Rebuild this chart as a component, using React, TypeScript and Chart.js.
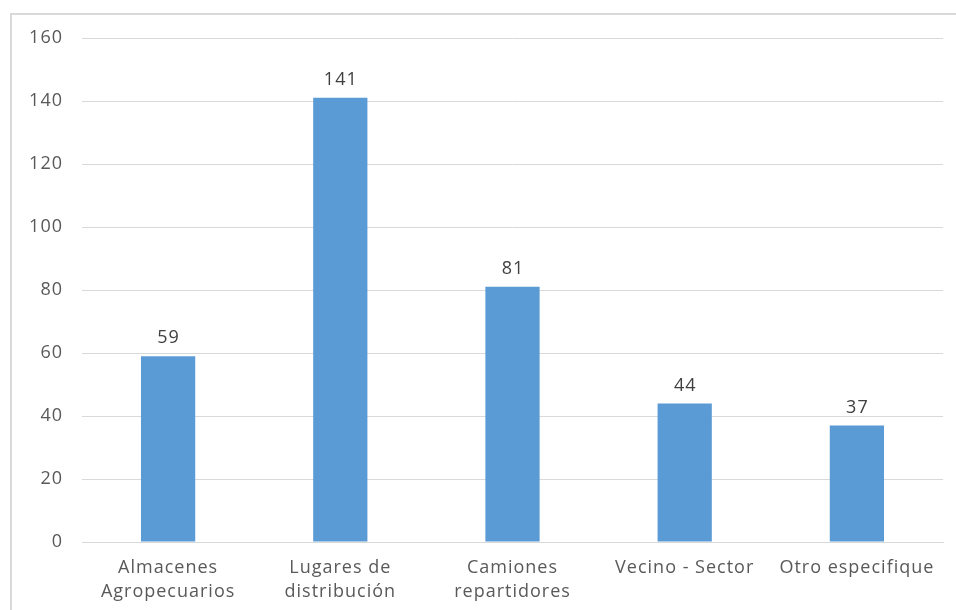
import React, { useEffect, useRef } from "react";
import { Chart, registerables } from "chart.js";

Chart.register(...registerables);

const categories: string[][] = [
  ["Almacenes", "Agropecuarios"],
  ["Lugares de", "distribución"],
  ["Camiones", "repartidores"],
  ["Vecino - Sector"],
  ["Otro especifique"],
];
const values: number[] = [59, 141, 81, 44, 37];
const yMin = 0;
const yMax = 160;
const yStep = 20;

const FONT = "'Open Sans', Lato, sans-serif";

const spacing = {
  id: "spacing",
  beforeInit(chart: any) {
    chart.ctx.letterSpacing = "1px";
  },
  beforeDraw(chart: any) {
    chart.ctx.letterSpacing = "1px";
  },
};

const valueLabels = {
  id: "valueLabels",
  afterDatasetsDraw(chart: any) {
    const ctx = chart.ctx;
    const meta = chart.getDatasetMeta(0);
    ctx.save();
    ctx.letterSpacing = "1px";
    ctx.fillStyle = "#404040";
    ctx.font = `18px ${FONT}`;
    ctx.textAlign = "center";
    ctx.textBaseline = "middle";
    meta.data.forEach((bar: any, i: number) => {
      ctx.fillText(String(values[i]), bar.x + 0.5, bar.y - 18);
    });
    ctx.restore();
  },
};

export default function App() {
  const ref = useRef<HTMLCanvasElement | null>(null);
  useEffect(() => {
    if (!ref.current) return;
    const chart = new Chart(ref.current, {
      type: "bar",
      data: {
        labels: categories,
        datasets: [
          {
            data: values,
            backgroundColor: "#5B9BD5",
            borderWidth: 0,
            categoryPercentage: 1,
            barPercentage: 0.315,
          },
        ],
      },
      options: {
        animation: false,
        responsive: false,
        maintainAspectRatio: false,
        layout: { padding: { left: 0, top: 38, right: 13, bottom: 0 } },
        plugins: { legend: { display: false }, tooltip: { enabled: false } },
        scales: {
          x: {
            grid: { display: false, drawTicks: false },
            border: { display: true, color: "#d9d9d9", width: 1 },
            ticks: {
              color: "#595959",
              font: { family: FONT, size: 18, lineHeight: 1.33 },
              padding: 14,
              maxRotation: 0,
              autoSkip: false,
            },
            afterFit: (s: any) => {
              s.height = 68;
            },
          },
          y: {
            min: yMin,
            max: yMax,
            ticks: {
              stepSize: yStep,
              color: "#595959",
              font: { family: FONT, size: 18 },
              padding: 19,
            },
            grid: { color: "#d9d9d9", lineWidth: 1, drawTicks: false },
            border: { display: false },
            afterFit: (s: any) => {
              s.width = 82;
            },
          },
        },
      },
      plugins: [spacing, valueLabels],
    });
    return () => chart.destroy();
  }, []);
  return (
    <div style={{ position: "absolute", left: 0, top: 0, width: 956, height: 610, background: "#fff", overflow: "hidden" }}>
      <div
        style={{
          position: "absolute",
          left: 10,
          top: 13,
          width: 960,
          height: 620,
          border: "2px solid #d9d9d9",
          boxSizing: "border-box",
        }}
      />
      <canvas ref={ref} width={956} height={610} style={{ position: "absolute", left: 0, top: 0, width: 956, height: 610 }} />
    </div>
  );
}
